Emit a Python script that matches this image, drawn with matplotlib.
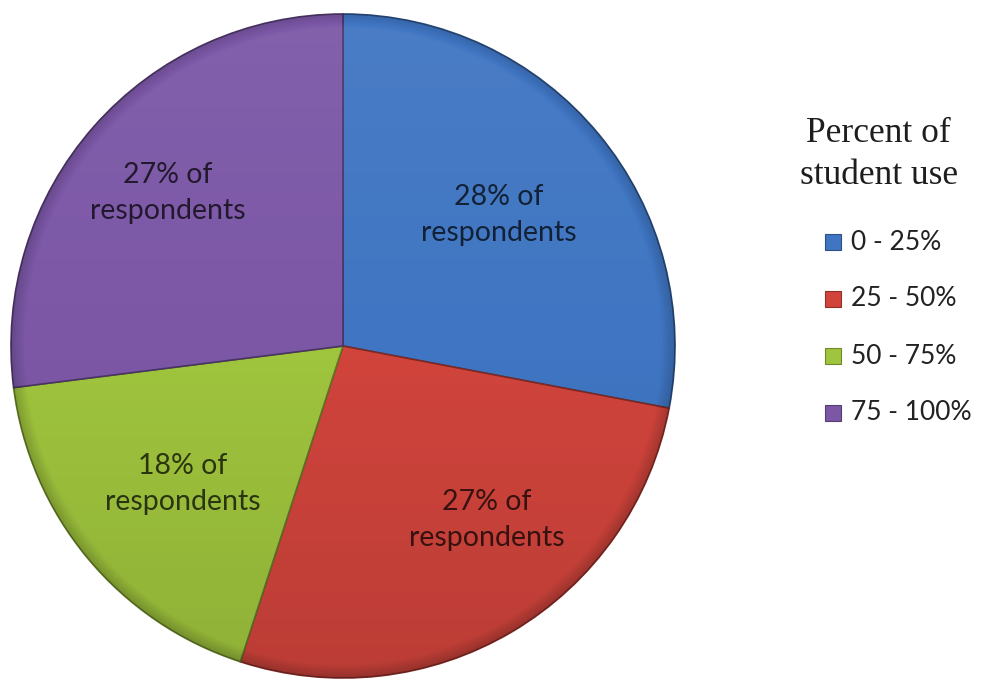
import numpy as np
import matplotlib.pyplot as plt
from matplotlib.patches import Circle, Rectangle
from matplotlib.colors import to_rgb

W, H = 982, 679

categories = ['0 - 25%', '25 - 50%', '50 - 75%', '75 - 100%']
shares = [28, 27, 18, 27]
colors = ['#3f75c2', '#d0443c', '#9fc43d', '#7b57a6']
label_pos = [(499, 215), (487, 520), (183, 484), (168, 193)]

cx, cy, r = 343, 346, 332


def py(y):
    # image rows count down from the top, the axes count up
    return H - y


def shade(c, k):
    rgb = np.array(to_rgb(c))
    if k >= 0:
        return tuple(rgb + (1 - rgb) * k)
    return tuple(rgb * (1 + k))


fig = plt.figure(figsize=(W / 100, H / 100), dpi=100)
ax = fig.add_axes([0, 0, 1, 1])

wedges, _ = ax.pie(shares, colors=colors, startangle=90, counterclock=False,
                   center=(cx, py(cy)), radius=r,
                   wedgeprops=dict(linewidth=1.2, edgecolor='none'))
for w, c in zip(wedges, colors):
    w.set_edgecolor(shade(c, -0.4))

# soft lighting over the disc: a little lighter at the top, darker low down and at the rim
n = 500
yy, xx = np.mgrid[-1:1:n * 1j, -1:1:n * 1j]
rr = np.hypot(xx, yy)
overlay = np.zeros((n, n, 4))
top = np.clip(-yy, 0, 1)
bottom = np.clip(yy, 0, 1)
rim = np.clip((rr - 0.96) / 0.04, 0, 1)
light = 0.06 * top
dark = 0.10 * bottom + 0.18 * rim
overlay[..., :3] = np.where((light > dark)[..., None], 1.0, 0.0)
overlay[..., 3] = np.abs(light - dark)
im = ax.imshow(overlay, extent=(cx - r, cx + r, py(cy) - r, py(cy) + r),
               origin='upper', zorder=3, interpolation='bilinear')
im.set_clip_path(Circle((cx, py(cy)), r, transform=ax.transData))

for (lx, ly), s in zip(label_pos, shares):
    ax.text(lx, py(ly), f'{s}% of\nrespondents', ha='center', va='center',
            fontsize=20.5, family='Lato', color='black', alpha=0.72,
            linespacing=1.45, zorder=5)

# legend
ax.text(878, py(133), 'Percent of', ha='center', va='center',
        fontsize=25.5, family='Liberation Serif', color='#1e1e1e')
ax.text(879, py(175), 'student use', ha='center', va='center',
        fontsize=25.5, family='Liberation Serif', color='#1e1e1e')
for i, (cat, c) in enumerate(zip(categories, colors)):
    y = 242 + i * 57
    ax.add_patch(Rectangle((825, py(y) - 8), 16, 16, facecolor=c,
                           edgecolor=shade(c, -0.3), linewidth=0.8))
    ax.text(851, py(y), cat, ha='left', va='center', fontsize=19,
            family='Lato', color='#222222')

ax.set_xlim(0, W)
ax.set_ylim(0, H)
ax.set_aspect('auto')
ax.axis('off')

fig.savefig('out.png', dpi=100, facecolor='white')
